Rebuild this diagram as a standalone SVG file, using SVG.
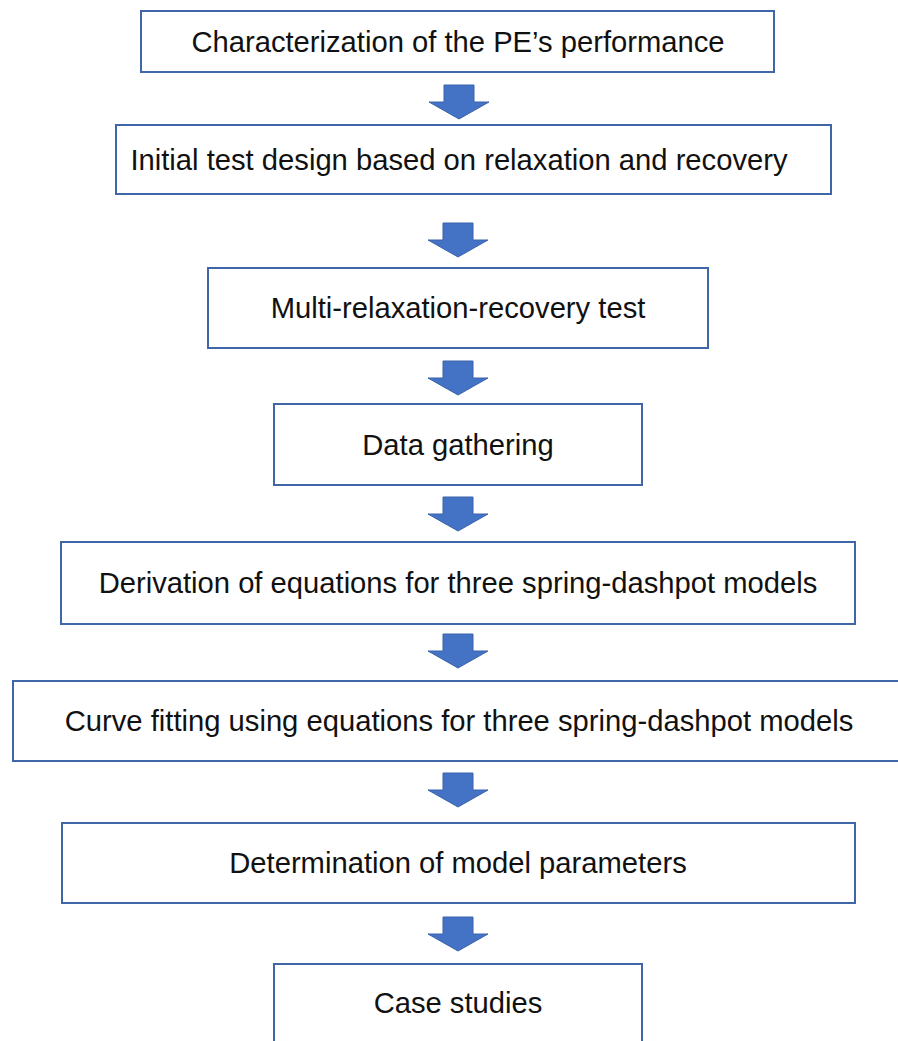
<svg xmlns="http://www.w3.org/2000/svg" width="898" height="1041" viewBox="0 0 898 1041">
  <defs>
    <style>
      .box { fill: #ffffff; stroke: #3f67a8; stroke-width: 2; }
      .lbl { font-family: "Liberation Sans", Arial, sans-serif; font-size: 29.2px; fill: #111111; text-anchor: middle; dominant-baseline: central; }
      .arr { fill: #4472c4; stroke: #3a63ab; stroke-width: 1; }
    </style>
    <!-- block arrow pointing down, origin at top-centre of shaft -->
    <path id="down" d="M -15 0 H 15 V 17 H 30 L 0 34 L -30 17 H -15 Z"/>
  </defs>
  <rect width="898" height="1041" fill="#ffffff"/>

  <g id="connectors">
    <use href="#down" class="arr" x="459" y="85"/>
    <use href="#down" class="arr" x="458" y="223"/>
    <use href="#down" class="arr" x="458" y="361"/>
    <use href="#down" class="arr" x="458" y="497"/>
    <use href="#down" class="arr" x="458" y="634"/>
    <use href="#down" class="arr" x="458" y="773"/>
    <use href="#down" class="arr" x="458" y="917"/>
  </g>

  <g id="n1">
    <rect class="box" x="141" y="11" width="633" height="61"/>
    <text class="lbl" x="458" y="42">Characterization of the PE’s performance</text>
  </g>
  <g id="n2">
    <rect class="box" x="116" y="125" width="715" height="69"/>
    <text class="lbl" x="459" y="160">Initial test design based on relaxation and recovery</text>
  </g>
  <g id="n3">
    <rect class="box" x="208" y="268" width="500" height="80"/>
    <text class="lbl" x="458" y="308">Multi-relaxation-recovery test</text>
  </g>
  <g id="n4">
    <rect class="box" x="274" y="404" width="368" height="81"/>
    <text class="lbl" x="458" y="445">Data gathering</text>
  </g>
  <g id="n5">
    <rect class="box" x="61" y="542" width="794" height="82"/>
    <text class="lbl" x="458" y="583">Derivation of equations for three spring-dashpot models</text>
  </g>
  <g id="n6">
    <rect class="box" x="13" y="681" width="890" height="80"/>
    <text class="lbl" x="459" y="721">Curve fitting using equations for three spring-dashpot models</text>
  </g>
  <g id="n7">
    <rect class="box" x="62" y="823" width="793" height="80"/>
    <text class="lbl" x="458" y="863">Determination of model parameters</text>
  </g>
  <g id="n8">
    <rect class="box" x="274" y="964" width="368" height="90"/>
    <text class="lbl" x="458" y="1003">Case studies</text>
  </g>
</svg>
